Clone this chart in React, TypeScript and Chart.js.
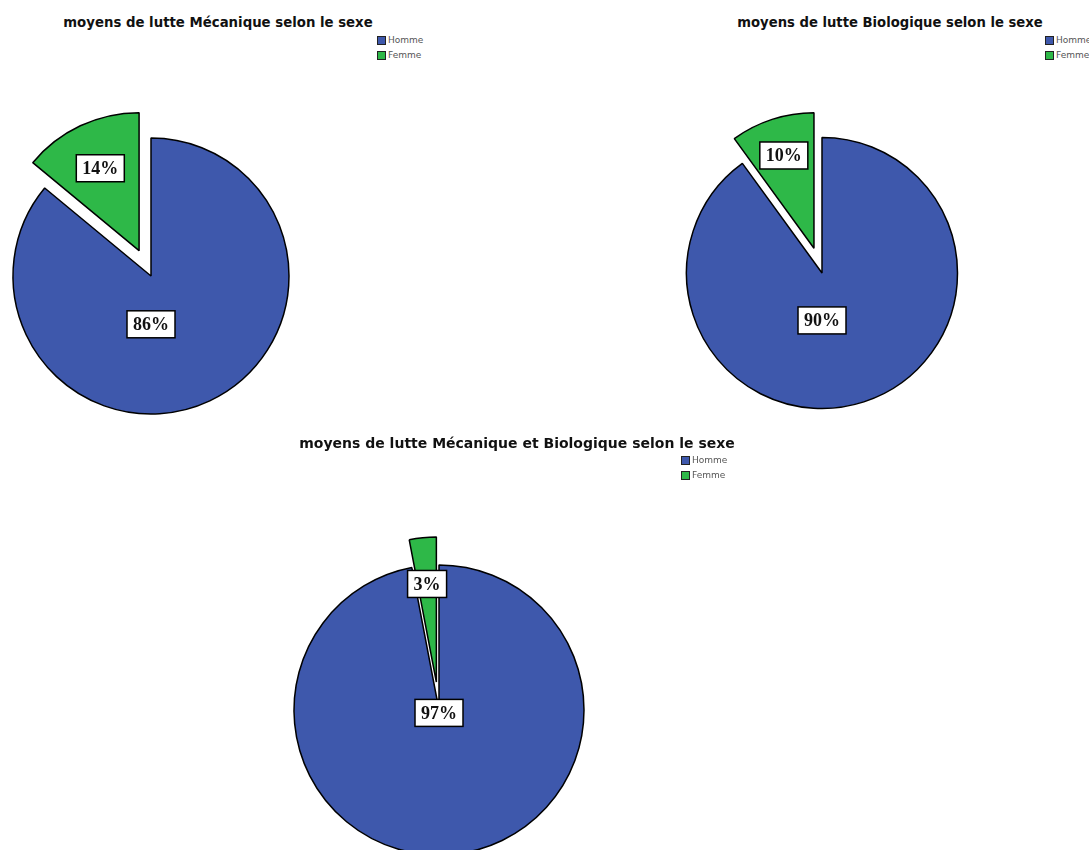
import React, { useEffect, useRef } from "react";
import { Chart, registerables, ArcElement } from "chart.js";

Chart.register(...registerables);

// ---------- data ----------
const categories = ["Homme", "Femme"];
const mecaniqueValues = [86, 14];
const biologiqueValues = [90, 10];
const mecaBioValues = [97, 3];
const chartTitles = [
  "moyens de lutte Mécanique selon le sexe",
  "moyens de lutte Biologique selon le sexe",
  "moyens de lutte Mécanique et Biologique selon le sexe",
];
const sliceColors = ["#3E58AC", "#2EB848"];

// ---------- exploded arc drawing (pure translation, no radius growth) ----------
const proto: any = ArcElement.prototype;
if (!proto.__explodePatched) {
  const baseDraw = proto.draw;
  proto.draw = function (ctx: CanvasRenderingContext2D) {
    const off = (this.options && this.options.offset) || 0;
    if (!off) return baseDraw.call(this, ctx);
    const half = (this.startAngle + this.endAngle) / 2;
    const clone = Object.create(this);
    clone.options = Object.assign({}, this.options, { offset: 0 });
    ctx.save();
    ctx.translate(Math.cos(half) * off, Math.sin(half) * off);
    baseDraw.call(clone, ctx);
    ctx.restore();
  };
  proto.__explodePatched = true;
}

// ---------- boxed percentage labels ----------
const boxLabels = {
  id: "boxLabels",
  afterDatasetsDraw(chart: any, _args: any, opts: any) {
    const ctx: CanvasRenderingContext2D = chart.ctx;
    const meta = chart.getDatasetMeta(0);
    const data: number[] = chart.data.datasets[0].data;
    const total = data.reduce((a, b) => a + b, 0);
    const placement = opts.placement || [];
    meta.data.forEach((arc: any, i: number) => {
      const { x, y, startAngle, endAngle, outerRadius } = arc.getProps(
        ["x", "y", "startAngle", "endAngle", "outerRadius"],
        true
      );
      const off = (arc.options && arc.options.offset) || 0;
      const mid = (startAngle + endAngle) / 2;
      const cx = x + Math.cos(mid) * off;
      const cy = y + Math.sin(mid) * off;
      const p = placement[i] || { frac: 0.6 };
      const ang =
        p.angle === undefined || p.angle === null
          ? mid
          : ((p.angle - 90) * Math.PI) / 180;
      const lx = cx + Math.cos(ang) * outerRadius * p.frac;
      const ly = cy + Math.sin(ang) * outerRadius * p.frac;
      const text = Math.round((data[i] / total) * 100) + "%";
      ctx.save();
      ctx.font = 'bold 18px "Liberation Serif", "Times New Roman", serif';
      const w = ctx.measureText(text).width + 12;
      const h = 27;
      ctx.fillStyle = "#ffffff";
      ctx.fillRect(lx - w / 2, ly - h / 2, w, h);
      ctx.lineWidth = 1.5;
      ctx.strokeStyle = "#000000";
      ctx.strokeRect(lx - w / 2, ly - h / 2, w, h);
      ctx.fillStyle = "#111111";
      ctx.textAlign = "center";
      ctx.textBaseline = "middle";
      ctx.fillText(text, lx, ly + 1);
      ctx.restore();
    });
  },
};

type PieProps = {
  values: number[];
  radius: number;
  explode: number;
  size: number;
  left: number;
  top: number;
  placement: { angle?: number; frac: number }[];
};

function ExplodedPie({ values, radius, explode, size, left, top, placement }: PieProps) {
  const ref = useRef<HTMLCanvasElement | null>(null);
  useEffect(() => {
    if (!ref.current) return;
    const chart = new Chart(ref.current, {
      type: "pie",
      data: {
        labels: categories,
        datasets: [
          {
            data: values,
            backgroundColor: sliceColors,
            borderColor: "#000000",
            borderWidth: 1.5,
            offset: [0, explode],
          } as any,
        ],
      },
      options: {
        responsive: false,
        animation: false,
        devicePixelRatio: 1,
        events: [],
        radius: radius,
        layout: { padding: 0 },
        plugins: {
          legend: { display: false },
          tooltip: { enabled: false },
          title: { display: false },
          boxLabels: { placement },
        } as any,
      } as any,
      plugins: [boxLabels],
    });
    return () => chart.destroy();
  }, []);
  return (
    <canvas
      ref={ref}
      width={size}
      height={size}
      style={{ position: "absolute", left, top, width: size, height: size }}
    />
  );
}

function Title({ text, cx, cy, size }: { text: string; cx: number; cy: number; size: number }) {
  return (
    <div
      style={{
        position: "absolute",
        left: cx - 350,
        width: 700,
        top: cy - 8,
        height: 16,
        lineHeight: "16px",
        textAlign: "center",
        font: `bold ${size}px "DejaVu Sans", sans-serif`,
        color: "#111",
        whiteSpace: "nowrap",
      }}
    >
      {text}
    </div>
  );
}

function Legend({ left, top, pitch }: { left: number; top: number; pitch: number }) {
  return (
    <div style={{ position: "absolute", left, top }}>
      {categories.map((c, i) => (
        <div
          key={c}
          style={{ position: "absolute", left: 0, top: i * pitch, height: 10, whiteSpace: "nowrap" }}
        >
          <div
            style={{
              position: "absolute",
              left: 0,
              top: 0,
              width: 7,
              height: 7,
              background: sliceColors[i],
              border: "1px solid #222",
            }}
          />
          <span
            style={{
              position: "absolute",
              left: 11,
              top: -1,
              font: '9px "DejaVu Sans", sans-serif',
              color: "#555",
              lineHeight: "11px",
            }}
          >
            {c}
          </span>
        </div>
      ))}
    </div>
  );
}

export default function App() {
  const S = 380;
  return (
    <div
      style={{
        position: "absolute",
        left: 0,
        top: 0,
        width: 1089,
        height: 850,
        overflow: "hidden",
        background: "#ffffff",
      }}
    >
      <ExplodedPie
        values={mecaniqueValues}
        radius={138}
        explode={28}
        size={S}
        left={151 - S / 2}
        top={276 - S / 2}
        placement={[{ angle: 180, frac: 0.35 }, { frac: 0.66 }]}
      />
      <ExplodedPie
        values={biologiqueValues}
        radius={135.5}
        explode={26}
        size={S}
        left={822 - S / 2}
        top={273 - S / 2}
        placement={[{ angle: 180, frac: 0.35 }, { frac: 0.72 }]}
      />
      <ExplodedPie
        values={mecaBioValues}
        radius={145}
        explode={28}
        size={S}
        left={439 - S / 2}
        top={710 - S / 2}
        placement={[{ angle: 180, frac: 0.02 }, { frac: 0.68 }]}
      />
      <Title text={chartTitles[0]} cx={218} cy={23} size={13.3} />
      <Title text={chartTitles[1]} cx={890} cy={23} size={13.2} />
      <Title text={chartTitles[2]} cx={517} cy={443} size={14} />
      <Legend left={377} top={36} pitch={14.5} />
      <Legend left={1045} top={36} pitch={14.5} />
      <Legend left={681} top={456} pitch={14.7} />
    </div>
  );
}
